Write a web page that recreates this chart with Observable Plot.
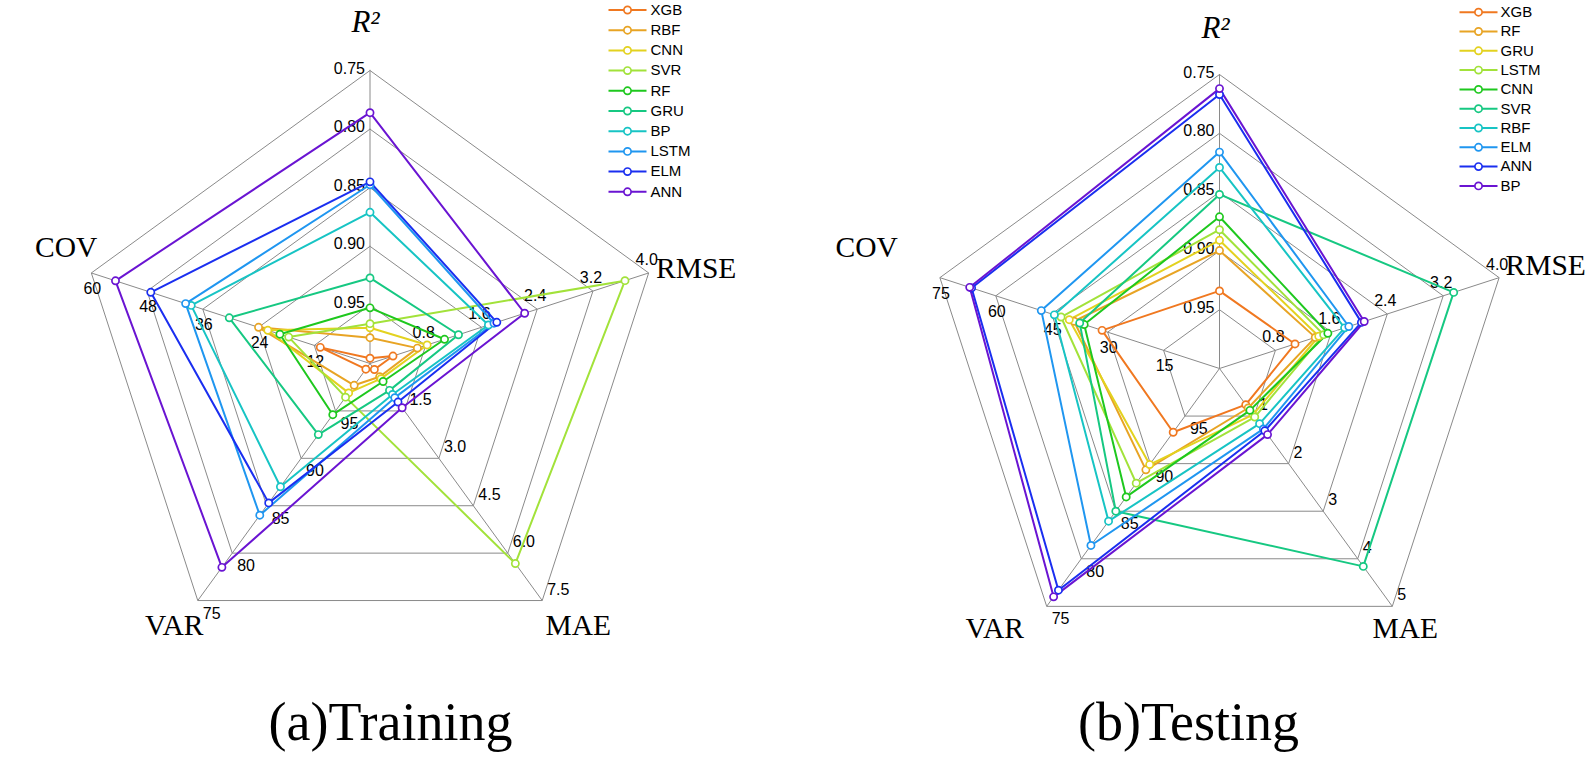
<!DOCTYPE html>
<html><head><meta charset="utf-8">
<script src="https://cdn.jsdelivr.net/npm/d3@7"></script>
<script src="https://cdn.jsdelivr.net/npm/@observablehq/plot@0.6"></script>
<style>html,body{margin:0;padding:0;background:#fff;} #chart svg{display:block}</style>
</head><body><div id="chart"></div>
<script>
// ---------- data ----------
const metrics = ["R2", "RMSE", "MAE", "VAR", "COV"];
const palette = ["#f07820", "#e8a424", "#e3d21f", "#a2e23a", "#1ec81e", "#16c882", "#17c4c4", "#1f96f0", "#1a2ef0", "#6a14d2"];

const trainModels = ["XGB", "RBF", "CNN", "SVR", "RF", "GRU", "BP", "LSTM", "ELM", "ANN"];
const trainR2   = [0.9955, 0.978, 0.9695, 0.966, 0.9525, 0.927, 0.871, 0.8475, 0.845, 0.786];
const trainRMSE = [0.33, 0.68, 0.82, 3.66, 1.07, 1.27, 1.70, 1.78, 1.82, 2.22];
const trainMAE  = [0.19, 0.42, 0.48, 6.33, 0.57, 0.85, 0.98, 1.08, 1.22, 1.40];
const trainVAR  = [99.4, 97.7, 96.9, 96.45, 94.6, 92.5, 87.0, 84.0, 85.3, 78.5];
const trainCOV  = [10.7, 24.0, 22.0, 17.5, 19.4, 30.3, 38.5, 39.7, 47.2, 54.8];

const testModels = ["XGB", "RF", "GRU", "LSTM", "CNN", "SVR", "RBF", "ELM", "ANN", "BP"];
const testR2   = [0.934, 0.8997, 0.891, 0.882, 0.871, 0.852, 0.829, 0.816, 0.767, 0.762];
const testRMSE = [1.08, 1.37, 1.42, 1.49, 1.55, 3.35, 1.79, 1.85, 2.03, 2.07];
const testMAE  = [0.76, 0.83, 0.97, 1.02, 0.88, 4.16, 1.16, 1.27, 1.31, 1.39];
const testVAR  = [93.3, 89.35, 89.9, 87.95, 86.5, 85.0, 83.95, 81.4, 76.7, 76.0];
const testCOV  = [31.5, 39.0, 40.3, 42.5, 36.3, 37.5, 44.3, 47.8, 66.5, 67.0];

const trainR2Ticks   = ["0.95", "0.90", "0.85", "0.80", "0.75"];
const trainRMSETicks = ["0.8", "1.6", "2.4", "3.2", "4.0"];
const trainMAETicks  = ["1.5", "3.0", "4.5", "6.0", "7.5"];
const trainVARTicks  = ["95", "90", "85", "80", "75"];
const trainCOVTicks  = ["12", "24", "36", "48", "60"];

const testR2Ticks   = ["0.95", "0.90", "0.85", "0.80", "0.75"];
const testRMSETicks = ["0.8", "1.6", "2.4", "3.2", "4.0"];
const testMAETicks  = ["1", "2", "3", "4", "5"];
const testVARTicks  = ["95", "90", "85", "80", "75"];
const testCOVTicks  = ["15", "30", "45", "60", "75"];

const axisTitles = ["R²", "RMSE", "MAE", "VAR", "COV"];
const chartTitles = ["(a)Training", "(b)Testing"];

// ---------- layout ----------
const W = 1594, H = 762;
const deg = Math.PI / 180;
const charts = [
  {key: "train", cx: 369.5, cy: 363, R: 293, models: trainModels,
   cols: [trainR2, trainRMSE, trainMAE, trainVAR, trainCOV],
   ticks: [trainR2Ticks, trainRMSETicks, trainMAETicks, trainVARTicks, trainCOVTicks],
   titleOff: [[-4.5, -341, "middle"], [286, -95, "start"], [175.5, 262, "start"], [-225, 262, "start"], [-335, -116, "start"]],
   caption: [20.5, 359],
   legend: {x0: 608, x1: 646, xt: 650, y0: 9.5, dy: 20.2}},
  {key: "test", cx: 1219, cy: 368, R: 294, models: testModels,
   cols: [testR2, testRMSE, testMAE, testVAR, testCOV],
   ticks: [testR2Ticks, testRMSETicks, testMAETicks, testVARTicks, testCOVTicks],
   titleOff: [[-4, -340, "middle"], [286, -103, "start"], [153, 260, "start"], [-254, 260, "start"], [-384, -121, "start"]],
   caption: [-31, 354],
   legend: {x0: 1459, x1: 1497, xt: 1500, y0: 11.7, dy: 19.3}}
];

function P(c, j, r) {
  const a = j * 72 * deg;
  return [c.cx + c.R * r * Math.sin(a), c.cy - c.R * r * Math.cos(a)];
}
function radius(ticks, v) {
  const t = ticks.map(Number);
  const c0 = 2 * t[0] - t[1];
  return (v - c0) / (t[4] - c0);
}

const gridRings = [], spokes = [], tickRows = [], seriesRows = [], dotRows = [], titleRows = [], legendRows = [], captionRows = [];
charts.forEach((c, ci) => {
  for (let k = 1; k <= 5; k++) {
    for (let j = 0; j <= 5; j++) {
      const [x, y] = P(c, j % 5, k / 5);
      gridRings.push({z: c.key + k, x, y});
    }
  }
  for (let j = 0; j < 5; j++) {
    const [x2, y2] = P(c, j, 1);
    spokes.push({x1: c.cx, y1: c.cy, x2, y2});
    c.ticks[j].forEach((lab, k) => {
      const [x, y] = P(c, j, (k + 1) / 5);
      tickRows.push({m: j, x, y, lab});
    });
    const [dx, dy, anchor] = c.titleOff[j];
    titleRows.push({x: c.cx + dx, y: c.cy + dy, lab: axisTitles[j], anchor, italic: j === 0});
  }
  captionRows.push({x: c.cx + c.caption[0], y: c.cy + c.caption[1], lab: chartTitles[ci]});
  c.models.forEach((m, i) => {
    for (let j = 0; j <= 5; j++) {
      const jj = j % 5;
      const r = radius(c.ticks[jj], c.cols[jj][i]);
      const [x, y] = P(c, jj, r);
      const row = {z: c.key + m, x, y, color: palette[i]};
      seriesRows.push(row);
      if (j < 5) dotRows.push(row);
    }
    const L = c.legend;
    const yy = L.y0 + L.dy * i;
    legendRows.push({x1: L.x0, x2: L.x1, xc: (L.x0 + L.x1) / 2, xt: L.xt, y: yy, lab: m, color: palette[i]});
  });
});

const tickOpts = [
  {textAnchor: "end", dx: -5, dy: -2},
  {textAnchor: "middle", dx: -2, dy: -13},
  {textAnchor: "start", dx: 5, dy: -11},
  {textAnchor: "start", dx: 5, dy: 13},
  {textAnchor: "middle", dx: 1, dy: 16}
];

const sans = "Liberation Sans, Arial, sans-serif";
const serif = "Liberation Serif, Times New Roman, serif";

const marks = [
  Plot.line(gridRings, {x: "x", y: "y", z: "z", stroke: "#8a8a8a", strokeWidth: 1}),
  Plot.link(spokes, {x1: "x1", y1: "y1", x2: "x2", y2: "y2", stroke: "#8a8a8a", strokeWidth: 1}),
  ...tickOpts.map((o, j) => Plot.text(tickRows.filter(d => d.m === j), {
    x: "x", y: "y", text: "lab", fill: "#000", fontSize: 16, fontFamily: sans, ...o})),
  Plot.line(seriesRows, {x: "x", y: "y", z: "z", stroke: "color", strokeWidth: 2}),
  Plot.dot(dotRows, {x: "x", y: "y", r: 3.6, stroke: "color", fill: "#fff", strokeWidth: 1.7}),
  ...["middle", "start"].map(a => Plot.text(titleRows.filter(d => d.anchor === a && !d.italic), {
    x: "x", y: "y", text: "lab", textAnchor: a, fontSize: 29.5, fontFamily: serif, fill: "#000"})),
  Plot.text(titleRows.filter(d => d.italic), {x: "x", y: "y", text: "lab", fontSize: 31, fontFamily: serif, fontStyle: "italic", fill: "#000"}),
  Plot.text(captionRows, {x: "x", y: "y", text: "lab", fontSize: 54, fontFamily: serif, fill: "#000"}),
  Plot.link(legendRows, {x1: "x1", x2: "x2", y1: "y", y2: "y", stroke: "color", strokeWidth: 2}),
  Plot.dot(legendRows, {x: "xc", y: "y", r: 3.6, stroke: "color", fill: "#fff", strokeWidth: 1.7}),
  Plot.text(legendRows, {x: "xt", y: "y", text: "lab", textAnchor: "start", fontSize: 15, fontFamily: sans, fill: "#000"})
];

const plot = Plot.plot({
  width: W, height: H, margin: 0,
  x: {domain: [0, W], range: [0, W], axis: null},
  y: {domain: [0, H], range: [0, H], axis: null},
  color: {type: "identity"},
  style: {background: "#fff", overflow: "visible"},
  marks
});
document.getElementById("chart").appendChild(plot);
</script>
</body></html>
